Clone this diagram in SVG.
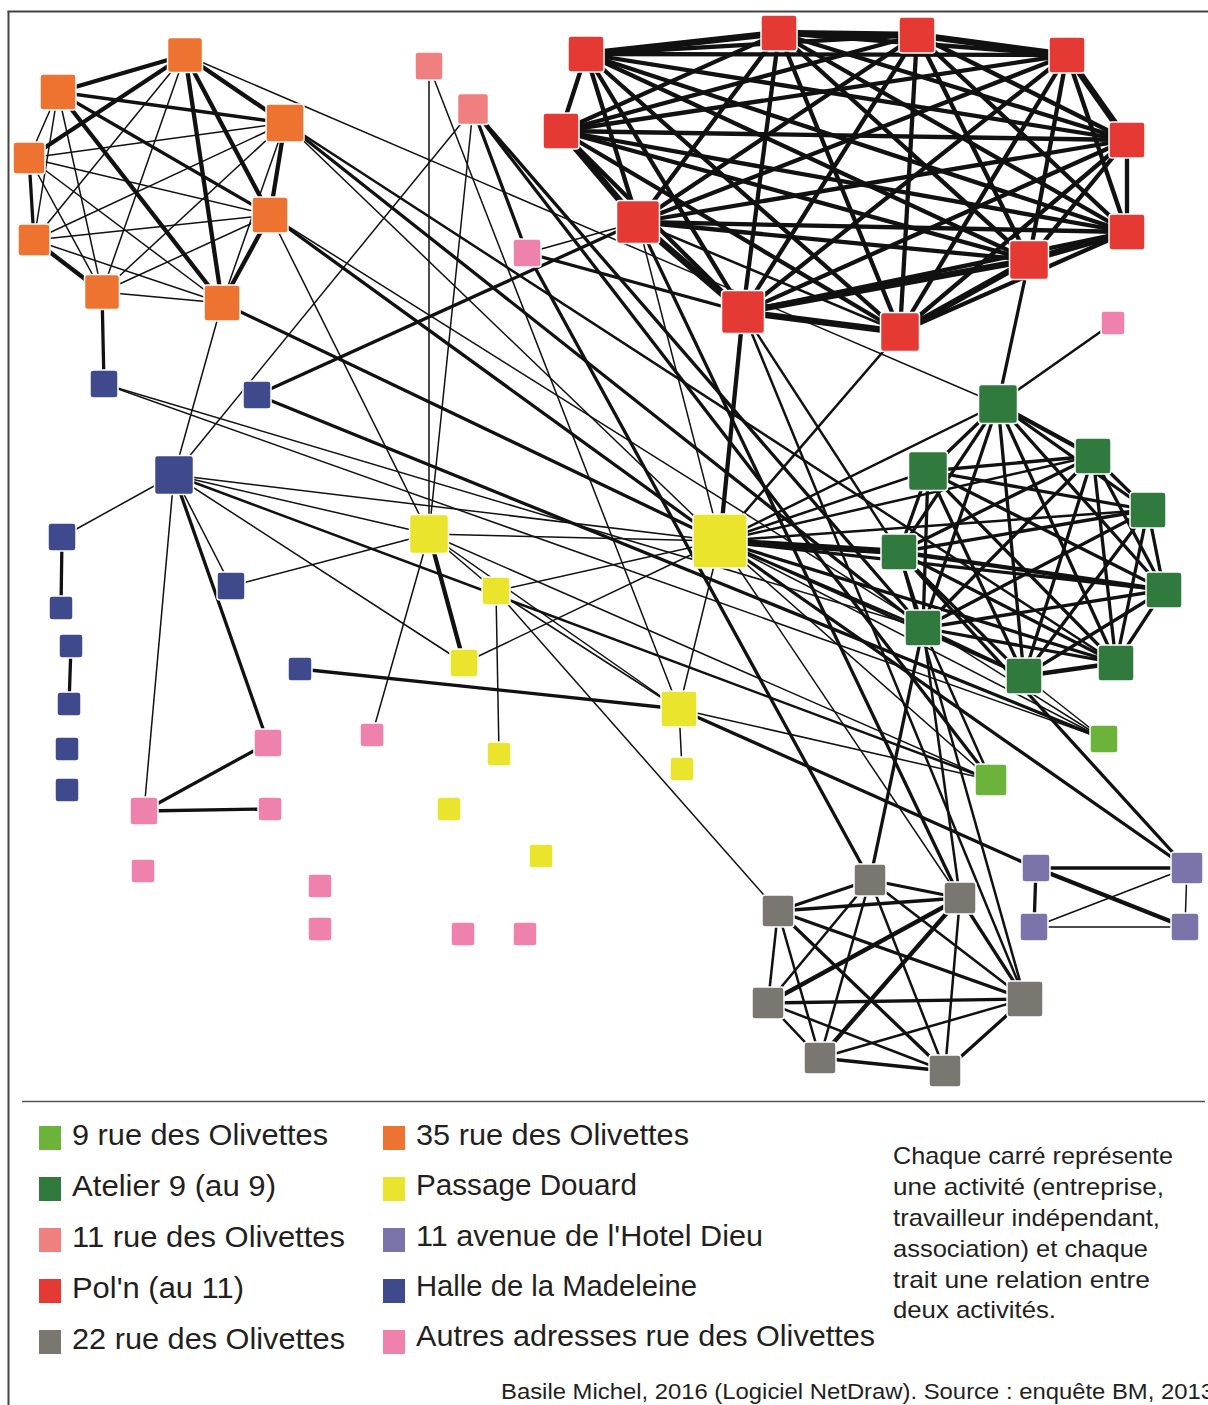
<svg xmlns="http://www.w3.org/2000/svg" width="1208" height="1405" viewBox="0 0 1208 1405">
<style>
#edges line{stroke:#111;stroke-linecap:butt}
.t1{stroke-width:1.5}.t2{stroke-width:2.5}.t3{stroke-width:3.3}.t4{stroke-width:4.3}.t5{stroke-width:6.5}
.nd rect{stroke:#fff;stroke-width:1.5}
.or{fill:#ee7330}.rd{fill:#e53a33}.lp{fill:#f08080}.pk{fill:#ef82ad}.bl{fill:#3f4a8c}.gr{fill:#2f7a3c}.lg{fill:#6bb33a}.ye{fill:#ebe42c}.gy{fill:#7a7770}.pu{fill:#7b74ab}
.lg-t{font-family:"Liberation Sans",Arial,sans-serif;font-size:29px;fill:#231f20}
.nt{font-family:"Liberation Sans",Arial,sans-serif;font-size:24px;fill:#231f20}
.ft{font-family:"Liberation Sans",Arial,sans-serif;font-size:22px;fill:#231f20}
</style>
<rect x="0" y="0" width="1208" height="1405" fill="#fff"/>
<g id="frame" fill="none">
<line x1="8.5" y1="11" x2="8.5" y2="1405" stroke="#444" stroke-width="2"/>
<line x1="7.5" y1="11.5" x2="1208" y2="11.5" stroke="#444" stroke-width="2"/>
<line x1="22" y1="1101.5" x2="1205" y2="1101.5" stroke="#555" stroke-width="1.5"/>
</g>
<g id="edges">
<!-- orange cluster -->
<line class="t4" x1="185" y1="55" x2="58" y2="92"/>
<line class="t4" x1="185" y1="55" x2="285" y2="123"/>
<line class="t4" x1="185" y1="55" x2="29" y2="158"/>
<line class="t4" x1="185" y1="55" x2="270" y2="215"/>
<line class="t1" x1="185" y1="55" x2="34" y2="240"/>
<line class="t1" x1="185" y1="55" x2="102" y2="292"/>
<line class="t4" x1="185" y1="55" x2="222" y2="303"/>
<line class="t3" x1="58" y1="92" x2="285" y2="123"/>
<line class="t1" x1="58" y1="92" x2="29" y2="158"/>
<line class="t3" x1="58" y1="92" x2="270" y2="215"/>
<line class="t1" x1="58" y1="92" x2="34" y2="240"/>
<line class="t1" x1="58" y1="92" x2="102" y2="292"/>
<line class="t4" x1="58" y1="92" x2="222" y2="303"/>
<line class="t1" x1="285" y1="123" x2="29" y2="158"/>
<line class="t4" x1="285" y1="123" x2="270" y2="215"/>
<line class="t1" x1="285" y1="123" x2="34" y2="240"/>
<line class="t1" x1="285" y1="123" x2="102" y2="292"/>
<line class="t1" x1="285" y1="123" x2="222" y2="303"/>
<line class="t1" x1="29" y1="158" x2="270" y2="215"/>
<line class="t3" x1="29" y1="158" x2="34" y2="240"/>
<line class="t1" x1="29" y1="158" x2="102" y2="292"/>
<line class="t1" x1="29" y1="158" x2="222" y2="303"/>
<line class="t1" x1="270" y1="215" x2="34" y2="240"/>
<line class="t1" x1="270" y1="215" x2="102" y2="292"/>
<line class="t4" x1="270" y1="215" x2="222" y2="303"/>
<line class="t4" x1="34" y1="240" x2="102" y2="292"/>
<line class="t1" x1="34" y1="240" x2="222" y2="303"/>
<line class="t1" x1="102" y1="292" x2="222" y2="303"/>
<!-- red cluster -->
<line class="t4" x1="586" y1="54" x2="561" y2="131"/>
<line class="t4" x1="586" y1="54" x2="638" y2="222"/>
<line class="t4" x1="586" y1="54" x2="743" y2="312"/>
<line class="t5" x1="586" y1="54" x2="779" y2="33"/>
<line class="t4" x1="586" y1="54" x2="917" y2="35"/>
<line class="t4" x1="586" y1="54" x2="1067" y2="55"/>
<line class="t4" x1="586" y1="54" x2="1127" y2="140"/>
<line class="t4" x1="586" y1="54" x2="1127" y2="232"/>
<line class="t4" x1="586" y1="54" x2="1029" y2="260"/>
<line class="t4" x1="586" y1="54" x2="900" y2="332"/>
<line class="t5" x1="561" y1="131" x2="638" y2="222"/>
<line class="t4" x1="561" y1="131" x2="743" y2="312"/>
<line class="t4" x1="561" y1="131" x2="779" y2="33"/>
<line class="t4" x1="561" y1="131" x2="917" y2="35"/>
<line class="t4" x1="561" y1="131" x2="1067" y2="55"/>
<line class="t4" x1="561" y1="131" x2="1127" y2="140"/>
<line class="t4" x1="561" y1="131" x2="1127" y2="232"/>
<line class="t4" x1="561" y1="131" x2="1029" y2="260"/>
<line class="t4" x1="561" y1="131" x2="900" y2="332"/>
<line class="t5" x1="638" y1="222" x2="743" y2="312"/>
<line class="t4" x1="638" y1="222" x2="779" y2="33"/>
<line class="t4" x1="638" y1="222" x2="917" y2="35"/>
<line class="t4" x1="638" y1="222" x2="1067" y2="55"/>
<line class="t4" x1="638" y1="222" x2="1127" y2="140"/>
<line class="t4" x1="638" y1="222" x2="1127" y2="232"/>
<line class="t4" x1="638" y1="222" x2="1029" y2="260"/>
<line class="t2" x1="638" y1="222" x2="900" y2="332"/>
<line class="t4" x1="743" y1="312" x2="779" y2="33"/>
<line class="t4" x1="743" y1="312" x2="917" y2="35"/>
<line class="t4" x1="743" y1="312" x2="1067" y2="55"/>
<line class="t4" x1="743" y1="312" x2="1127" y2="140"/>
<line class="t4" x1="743" y1="312" x2="1127" y2="232"/>
<line class="t5" x1="743" y1="312" x2="1029" y2="260"/>
<line class="t5" x1="743" y1="312" x2="900" y2="332"/>
<line class="t5" x1="779" y1="33" x2="917" y2="35"/>
<line class="t4" x1="779" y1="33" x2="1067" y2="55"/>
<line class="t4" x1="779" y1="33" x2="1127" y2="140"/>
<line class="t4" x1="779" y1="33" x2="1127" y2="232"/>
<line class="t4" x1="779" y1="33" x2="1029" y2="260"/>
<line class="t4" x1="779" y1="33" x2="900" y2="332"/>
<line class="t5" x1="917" y1="35" x2="1067" y2="55"/>
<line class="t4" x1="917" y1="35" x2="1127" y2="140"/>
<line class="t4" x1="917" y1="35" x2="1127" y2="232"/>
<line class="t4" x1="917" y1="35" x2="1029" y2="260"/>
<line class="t4" x1="917" y1="35" x2="900" y2="332"/>
<line class="t5" x1="1067" y1="55" x2="1127" y2="140"/>
<line class="t4" x1="1067" y1="55" x2="1127" y2="232"/>
<line class="t4" x1="1067" y1="55" x2="1029" y2="260"/>
<line class="t4" x1="1067" y1="55" x2="900" y2="332"/>
<line class="t4" x1="1127" y1="140" x2="1127" y2="232"/>
<line class="t4" x1="1127" y1="140" x2="1029" y2="260"/>
<line class="t4" x1="1127" y1="140" x2="900" y2="332"/>
<line class="t5" x1="1127" y1="232" x2="1029" y2="260"/>
<line class="t4" x1="1127" y1="232" x2="900" y2="332"/>
<line class="t5" x1="1029" y1="260" x2="900" y2="332"/>
<!-- green cluster -->
<line class="t3" x1="998" y1="404" x2="928" y2="471"/>
<line class="t4" x1="998" y1="404" x2="1093" y2="456"/>
<line class="t3" x1="998" y1="404" x2="1148" y2="510"/>
<line class="t3" x1="998" y1="404" x2="899" y2="552"/>
<line class="t3" x1="998" y1="404" x2="1164" y2="590"/>
<line class="t3" x1="998" y1="404" x2="923" y2="628"/>
<line class="t3" x1="998" y1="404" x2="1116" y2="663"/>
<line class="t3" x1="998" y1="404" x2="1024" y2="676"/>
<line class="t3" x1="928" y1="471" x2="1093" y2="456"/>
<line class="t3" x1="928" y1="471" x2="1148" y2="510"/>
<line class="t3" x1="928" y1="471" x2="899" y2="552"/>
<line class="t3" x1="928" y1="471" x2="1164" y2="590"/>
<line class="t3" x1="928" y1="471" x2="923" y2="628"/>
<line class="t3" x1="928" y1="471" x2="1116" y2="663"/>
<line class="t3" x1="928" y1="471" x2="1024" y2="676"/>
<line class="t3" x1="1093" y1="456" x2="1148" y2="510"/>
<line class="t3" x1="1093" y1="456" x2="899" y2="552"/>
<line class="t3" x1="1093" y1="456" x2="1164" y2="590"/>
<line class="t3" x1="1093" y1="456" x2="923" y2="628"/>
<line class="t3" x1="1093" y1="456" x2="1116" y2="663"/>
<line class="t3" x1="1093" y1="456" x2="1024" y2="676"/>
<line class="t3" x1="1148" y1="510" x2="899" y2="552"/>
<line class="t3" x1="1148" y1="510" x2="1164" y2="590"/>
<line class="t3" x1="1148" y1="510" x2="923" y2="628"/>
<line class="t3" x1="1148" y1="510" x2="1116" y2="663"/>
<line class="t3" x1="1148" y1="510" x2="1024" y2="676"/>
<line class="t4" x1="899" y1="552" x2="1164" y2="590"/>
<line class="t3" x1="899" y1="552" x2="923" y2="628"/>
<line class="t3" x1="899" y1="552" x2="1116" y2="663"/>
<line class="t3" x1="899" y1="552" x2="1024" y2="676"/>
<line class="t3" x1="1164" y1="590" x2="923" y2="628"/>
<line class="t3" x1="1164" y1="590" x2="1116" y2="663"/>
<line class="t3" x1="1164" y1="590" x2="1024" y2="676"/>
<line class="t3" x1="923" y1="628" x2="1116" y2="663"/>
<line class="t3" x1="923" y1="628" x2="1024" y2="676"/>
<line class="t4" x1="1116" y1="663" x2="1024" y2="676"/>
<!-- gray cluster -->
<line class="t3" x1="778" y1="911" x2="870" y2="880"/>
<line class="t3" x1="778" y1="911" x2="960" y2="898"/>
<line class="t2" x1="778" y1="911" x2="768" y2="1003"/>
<line class="t3" x1="778" y1="911" x2="1025" y2="999"/>
<line class="t2" x1="778" y1="911" x2="820" y2="1058"/>
<line class="t3" x1="778" y1="911" x2="945" y2="1071"/>
<line class="t3" x1="870" y1="880" x2="960" y2="898"/>
<line class="t2" x1="870" y1="880" x2="768" y2="1003"/>
<line class="t2" x1="870" y1="880" x2="1025" y2="999"/>
<line class="t2" x1="870" y1="880" x2="820" y2="1058"/>
<line class="t2" x1="870" y1="880" x2="945" y2="1071"/>
<line class="t4" x1="960" y1="898" x2="768" y2="1003"/>
<line class="t3" x1="960" y1="898" x2="1025" y2="999"/>
<line class="t4" x1="960" y1="898" x2="820" y2="1058"/>
<line class="t2" x1="960" y1="898" x2="945" y2="1071"/>
<line class="t3" x1="768" y1="1003" x2="1025" y2="999"/>
<line class="t2" x1="768" y1="1003" x2="820" y2="1058"/>
<line class="t2" x1="768" y1="1003" x2="945" y2="1071"/>
<line class="t2" x1="1025" y1="999" x2="820" y2="1058"/>
<line class="t3" x1="1025" y1="999" x2="945" y2="1071"/>
<line class="t3" x1="820" y1="1058" x2="945" y2="1071"/>
<!-- purple -->
<line class="t3" x1="1036" y1="868" x2="1187" y2="868"/>
<line class="t3" x1="1036" y1="868" x2="1034" y2="927"/>
<line class="t4" x1="1036" y1="868" x2="1185" y2="927"/>
<line class="t1" x1="1187" y1="868" x2="1034" y2="927"/>
<line class="t1" x1="1187" y1="868" x2="1185" y2="927"/>
<line class="t1" x1="1034" y1="927" x2="1185" y2="927"/>
<!-- long links -->
<line class="t1" x1="185" y1="55" x2="998" y2="404"/>
<line class="t1" x1="285" y1="123" x2="720" y2="541"/>
<line class="t3" x1="285" y1="123" x2="923" y2="628"/>
<line class="t2" x1="285" y1="123" x2="1116" y2="663"/>
<line class="t1" x1="270" y1="215" x2="429" y2="534"/>
<line class="t3" x1="270" y1="215" x2="720" y2="541"/>
<line class="t1" x1="270" y1="215" x2="1104" y2="739"/>
<line class="t3" x1="222" y1="303" x2="720" y2="541"/>
<line class="t1" x1="222" y1="303" x2="174" y2="475"/>
<line class="t3" x1="102" y1="292" x2="104" y2="384"/>
<line class="t1" x1="429" y1="66" x2="429" y2="534"/>
<line class="t1" x1="429" y1="66" x2="679" y2="709"/>
<line class="t1" x1="473" y1="109" x2="429" y2="534"/>
<line class="t1" x1="473" y1="109" x2="174" y2="475"/>
<line class="t3" x1="473" y1="109" x2="527" y2="253"/>
<line class="t3" x1="473" y1="109" x2="991" y2="780"/>
<line class="t3" x1="473" y1="109" x2="923" y2="628"/>
<line class="t1" x1="527" y1="253" x2="638" y2="222"/>
<line class="t3" x1="527" y1="253" x2="743" y2="312"/>
<line class="t3" x1="527" y1="253" x2="870" y2="880"/>
<line class="t4" x1="743" y1="312" x2="720" y2="541"/>
<line class="t2" x1="900" y1="332" x2="720" y2="541"/>
<line class="t3" x1="1029" y1="260" x2="998" y2="404"/>
<line class="t3" x1="638" y1="222" x2="257" y2="395"/>
<line class="t1" x1="638" y1="222" x2="720" y2="541"/>
<line class="t3" x1="638" y1="222" x2="960" y2="898"/>
<line class="t2" x1="743" y1="312" x2="1025" y2="999"/>
<line class="t2" x1="743" y1="312" x2="899" y2="552"/>
<line class="t1" x1="104" y1="384" x2="923" y2="628"/>
<line class="t1" x1="104" y1="384" x2="1104" y2="739"/>
<line class="t3" x1="257" y1="395" x2="1104" y2="739"/>
<line class="t1" x1="174" y1="475" x2="62" y2="537"/>
<line class="t1" x1="174" y1="475" x2="231" y2="586"/>
<line class="t3" x1="174" y1="475" x2="268" y2="743"/>
<line class="t1" x1="174" y1="475" x2="144" y2="811"/>
<line class="t1" x1="174" y1="475" x2="720" y2="541"/>
<line class="t1" x1="174" y1="475" x2="429" y2="534"/>
<line class="t1" x1="174" y1="475" x2="464" y2="663"/>
<line class="t2" x1="174" y1="475" x2="991" y2="780"/>
<line class="t3" x1="62" y1="537" x2="61" y2="608"/>
<line class="t3" x1="71" y1="646" x2="69" y2="704"/>
<line class="t1" x1="231" y1="586" x2="429" y2="534"/>
<line class="t3" x1="300" y1="669" x2="679" y2="709"/>
<line class="t3" x1="268" y1="743" x2="144" y2="811"/>
<line class="t3" x1="144" y1="811" x2="270" y2="809"/>
<line class="t1" x1="372" y1="735" x2="429" y2="534"/>
<line class="t1" x1="720" y1="541" x2="429" y2="534"/>
<line class="t1" x1="720" y1="541" x2="496" y2="591"/>
<line class="t1" x1="720" y1="541" x2="464" y2="663"/>
<line class="t1" x1="720" y1="541" x2="679" y2="709"/>
<line class="t1" x1="429" y1="534" x2="496" y2="591"/>
<line class="t4" x1="429" y1="534" x2="464" y2="663"/>
<line class="t1" x1="429" y1="534" x2="679" y2="709"/>
<line class="t1" x1="429" y1="534" x2="991" y2="780"/>
<line class="t1" x1="496" y1="591" x2="499" y2="754"/>
<line class="t1" x1="496" y1="591" x2="778" y2="911"/>
<line class="t1" x1="496" y1="591" x2="679" y2="709"/>
<line class="t1" x1="679" y1="709" x2="682" y2="769"/>
<line class="t3" x1="679" y1="709" x2="1036" y2="868"/>
<line class="t1" x1="679" y1="709" x2="991" y2="780"/>
<line class="t1" x1="720" y1="541" x2="960" y2="898"/>
<line class="t3" x1="720" y1="541" x2="1187" y2="868"/>
<line class="t1" x1="720" y1="541" x2="1104" y2="739"/>
<line class="t1" x1="720" y1="541" x2="991" y2="780"/>
<line class="t2" x1="720" y1="541" x2="998" y2="404"/>
<line class="t2" x1="720" y1="541" x2="928" y2="471"/>
<line class="t2" x1="720" y1="541" x2="1093" y2="456"/>
<line class="t2" x1="720" y1="541" x2="1148" y2="510"/>
<line class="t5" x1="720" y1="541" x2="899" y2="552"/>
<line class="t3" x1="720" y1="541" x2="1164" y2="590"/>
<line class="t2" x1="720" y1="541" x2="923" y2="628"/>
<line class="t3" x1="720" y1="541" x2="1116" y2="663"/>
<line class="t2" x1="720" y1="541" x2="1024" y2="676"/>
<line class="t2" x1="998" y1="404" x2="1113" y2="323"/>
<line class="t3" x1="923" y1="628" x2="870" y2="880"/>
<line class="t2" x1="923" y1="628" x2="960" y2="898"/>
<line class="t2" x1="923" y1="628" x2="991" y2="780"/>
<line class="t1" x1="1024" y1="676" x2="1104" y2="739"/>
<line class="t2" x1="899" y1="552" x2="1025" y2="999"/>
<line class="t3" x1="899" y1="552" x2="1187" y2="868"/>
</g>
<g id="nodes" class="nd">
<g id="n-O1"><rect class="or" x="167.5" y="37.5" width="35" height="35" rx="3"/></g>
<g id="n-O2"><rect class="or" x="40" y="74" width="36" height="36" rx="3"/></g>
<g id="n-O3"><rect class="or" x="266" y="104" width="38" height="38" rx="3"/></g>
<g id="n-O4"><rect class="or" x="13" y="142" width="32" height="32" rx="3"/></g>
<g id="n-O5"><rect class="or" x="252" y="197" width="36" height="36" rx="3"/></g>
<g id="n-O6"><rect class="or" x="18" y="224" width="32" height="32" rx="3"/></g>
<g id="n-O7"><rect class="or" x="84.5" y="274.5" width="35" height="35" rx="3"/></g>
<g id="n-O8"><rect class="or" x="204" y="285" width="36" height="36" rx="3"/></g>
<g id="n-B1"><rect class="bl" x="90" y="370" width="28" height="28" rx="3"/></g>
<g id="n-B2"><rect class="bl" x="243" y="381" width="28" height="28" rx="3"/></g>
<g id="n-B3"><rect class="bl" x="154.5" y="455.5" width="39" height="39" rx="3"/></g>
<g id="n-B4"><rect class="bl" x="48" y="523" width="28" height="28" rx="3"/></g>
<g id="n-B5"><rect class="bl" x="217" y="572" width="28" height="28" rx="3"/></g>
<g id="n-B6"><rect class="bl" x="49" y="596" width="24" height="24" rx="3"/></g>
<g id="n-B7"><rect class="bl" x="59" y="634" width="24" height="24" rx="3"/></g>
<g id="n-B8"><rect class="bl" x="57" y="692" width="24" height="24" rx="3"/></g>
<g id="n-B9"><rect class="bl" x="55" y="737" width="24" height="24" rx="3"/></g>
<g id="n-B10"><rect class="bl" x="55" y="778" width="24" height="24" rx="3"/></g>
<g id="n-B11"><rect class="bl" x="288" y="657" width="24" height="24" rx="3"/></g>
<g id="n-P1"><rect class="pk" x="254" y="729" width="28" height="28" rx="3"/></g>
<g id="n-P2"><rect class="pk" x="360" y="723" width="24" height="24" rx="3"/></g>
<g id="n-P3"><rect class="pk" x="130" y="797" width="28" height="28" rx="3"/></g>
<g id="n-P4"><rect class="pk" x="258" y="797" width="24" height="24" rx="3"/></g>
<g id="n-P5"><rect class="pk" x="131" y="859" width="24" height="24" rx="3"/></g>
<g id="n-P6"><rect class="pk" x="308" y="874" width="24" height="24" rx="3"/></g>
<g id="n-P7"><rect class="pk" x="308" y="917" width="24" height="24" rx="3"/></g>
<g id="n-P8"><rect class="pk" x="451" y="922" width="24" height="24" rx="3"/></g>
<g id="n-P9"><rect class="pk" x="513" y="922" width="24" height="24" rx="3"/></g>
<g id="n-P10"><rect class="pk" x="513" y="239" width="28" height="28" rx="3"/></g>
<g id="n-P11"><rect class="pk" x="1101" y="311" width="24" height="24" rx="3"/></g>
<g id="n-LP1"><rect class="lp" x="415" y="52" width="28" height="28" rx="3"/></g>
<g id="n-LP2"><rect class="lp" x="457.5" y="93.5" width="31" height="31" rx="3"/></g>
<g id="n-Y1"><rect class="ye" x="693" y="514" width="54" height="54" rx="4"/></g>
<g id="n-Y2"><rect class="ye" x="409.5" y="514.5" width="39" height="39" rx="3"/></g>
<g id="n-Y3"><rect class="ye" x="482" y="577" width="28" height="28" rx="3"/></g>
<g id="n-Y4"><rect class="ye" x="450" y="649" width="28" height="28" rx="3"/></g>
<g id="n-Y5"><rect class="ye" x="661" y="691" width="36" height="36" rx="3"/></g>
<g id="n-Y6"><rect class="ye" x="437" y="797" width="24" height="24" rx="3"/></g>
<g id="n-Y7"><rect class="ye" x="529" y="844" width="24" height="24" rx="3"/></g>
<g id="n-Y8"><rect class="ye" x="487" y="742" width="24" height="24" rx="3"/></g>
<g id="n-Y9"><rect class="ye" x="670" y="757" width="24" height="24" rx="3"/></g>
<g id="n-R1"><rect class="rd" x="568" y="36" width="36" height="36" rx="3"/></g>
<g id="n-R2"><rect class="rd" x="543" y="113" width="36" height="36" rx="3"/></g>
<g id="n-R3"><rect class="rd" x="616.5" y="200.5" width="43" height="43" rx="3"/></g>
<g id="n-R4"><rect class="rd" x="721.5" y="290.5" width="43" height="43" rx="3"/></g>
<g id="n-R5"><rect class="rd" x="761" y="15" width="36" height="36" rx="3"/></g>
<g id="n-R6"><rect class="rd" x="899" y="17" width="36" height="36" rx="3"/></g>
<g id="n-R7"><rect class="rd" x="1049" y="37" width="36" height="36" rx="3"/></g>
<g id="n-R8"><rect class="rd" x="1109" y="122" width="36" height="36" rx="3"/></g>
<g id="n-R9"><rect class="rd" x="1109" y="214" width="36" height="36" rx="3"/></g>
<g id="n-R10"><rect class="rd" x="1009.5" y="240.5" width="39" height="39" rx="3"/></g>
<g id="n-R11"><rect class="rd" x="880.5" y="312.5" width="39" height="39" rx="3"/></g>
<g id="n-G1"><rect class="gr" x="978.5" y="384.5" width="39" height="39" rx="3"/></g>
<g id="n-G2"><rect class="gr" x="908.5" y="451.5" width="39" height="39" rx="3"/></g>
<g id="n-G3"><rect class="gr" x="1075" y="438" width="36" height="36" rx="3"/></g>
<g id="n-G4"><rect class="gr" x="1130" y="492" width="36" height="36" rx="3"/></g>
<g id="n-G5"><rect class="gr" x="881" y="534" width="36" height="36" rx="3"/></g>
<g id="n-G6"><rect class="gr" x="1146" y="572" width="36" height="36" rx="3"/></g>
<g id="n-G7"><rect class="gr" x="905" y="610" width="36" height="36" rx="3"/></g>
<g id="n-G8"><rect class="gr" x="1098" y="645" width="36" height="36" rx="3"/></g>
<g id="n-G9"><rect class="gr" x="1006" y="658" width="36" height="36" rx="3"/></g>
<g id="n-LG1"><rect class="lg" x="1090" y="725" width="28" height="28" rx="3"/></g>
<g id="n-LG2"><rect class="lg" x="975" y="764" width="32" height="32" rx="3"/></g>
<g id="n-GR1"><rect class="gy" x="762" y="895" width="32" height="32" rx="3"/></g>
<g id="n-GR2"><rect class="gy" x="854" y="864" width="32" height="32" rx="3"/></g>
<g id="n-GR3"><rect class="gy" x="944" y="882" width="32" height="32" rx="3"/></g>
<g id="n-GR4"><rect class="gy" x="752" y="987" width="32" height="32" rx="3"/></g>
<g id="n-GR5"><rect class="gy" x="1007" y="981" width="36" height="36" rx="3"/></g>
<g id="n-GR6"><rect class="gy" x="804" y="1042" width="32" height="32" rx="3"/></g>
<g id="n-GR7"><rect class="gy" x="929" y="1055" width="32" height="32" rx="3"/></g>
<g id="n-PU1"><rect class="pu" x="1022" y="854" width="28" height="28" rx="3"/></g>
<g id="n-PU2"><rect class="pu" x="1171" y="852" width="32" height="32" rx="3"/></g>
<g id="n-PU3"><rect class="pu" x="1020" y="913" width="28" height="28" rx="3"/></g>
<g id="n-PU4"><rect class="pu" x="1171" y="913" width="28" height="28" rx="3"/></g>
</g>
<g id="legend">
<rect class="lg" x="39" y="1126" width="22" height="24"/>
<rect class="gr" x="39" y="1177" width="22" height="24"/>
<rect class="lp" x="39" y="1228" width="22" height="24"/>
<rect class="rd" x="39" y="1279" width="22" height="24"/>
<rect class="gy" x="39" y="1330" width="22" height="24"/>
<rect class="or" x="383" y="1126" width="22" height="24"/>
<rect class="ye" x="383" y="1177" width="22" height="24"/>
<rect class="pu" x="383" y="1228" width="22" height="24"/>
<rect class="bl" x="383" y="1279" width="22" height="24"/>
<rect class="pk" x="383" y="1330" width="22" height="24"/>
<text class="lg-t" x="72" y="1145" textLength="256" lengthAdjust="spacingAndGlyphs">9 rue des Olivettes</text>
<text class="lg-t" x="72" y="1196" textLength="204" lengthAdjust="spacingAndGlyphs">Atelier 9 (au 9)</text>
<text class="lg-t" x="72" y="1247" textLength="273" lengthAdjust="spacingAndGlyphs">11 rue des Olivettes</text>
<text class="lg-t" x="72" y="1298" textLength="172" lengthAdjust="spacingAndGlyphs">Pol'n (au 11)</text>
<text class="lg-t" x="72" y="1349" textLength="273" lengthAdjust="spacingAndGlyphs">22 rue des Olivettes</text>
<text class="lg-t" x="416" y="1145" textLength="273" lengthAdjust="spacingAndGlyphs">35 rue des Olivettes</text>
<text class="lg-t" x="416" y="1195" textLength="221" lengthAdjust="spacingAndGlyphs">Passage Douard</text>
<text class="lg-t" x="416" y="1246" textLength="347" lengthAdjust="spacingAndGlyphs">11 avenue de l'Hotel Dieu</text>
<text class="lg-t" x="416" y="1296" textLength="281" lengthAdjust="spacingAndGlyphs">Halle de la Madeleine</text>
<text class="lg-t" x="416" y="1346" textLength="459" lengthAdjust="spacingAndGlyphs">Autres adresses rue des Olivettes</text>
<text class="nt" x="893" y="1164" textLength="280" lengthAdjust="spacingAndGlyphs">Chaque carré représente</text>
<text class="nt" x="893" y="1195" textLength="271" lengthAdjust="spacingAndGlyphs">une activité (entreprise,</text>
<text class="nt" x="893" y="1226" textLength="267" lengthAdjust="spacingAndGlyphs">travailleur indépendant,</text>
<text class="nt" x="893" y="1257" textLength="255" lengthAdjust="spacingAndGlyphs">association) et chaque</text>
<text class="nt" x="893" y="1288" textLength="257" lengthAdjust="spacingAndGlyphs">trait une relation entre</text>
<text class="nt" x="893" y="1318" textLength="163" lengthAdjust="spacingAndGlyphs">deux activités.</text>
<text class="ft" x="501" y="1399" textLength="713" lengthAdjust="spacingAndGlyphs">Basile Michel, 2016 (Logiciel NetDraw). Source : enquête BM, 2013</text>
</g>
</svg>
